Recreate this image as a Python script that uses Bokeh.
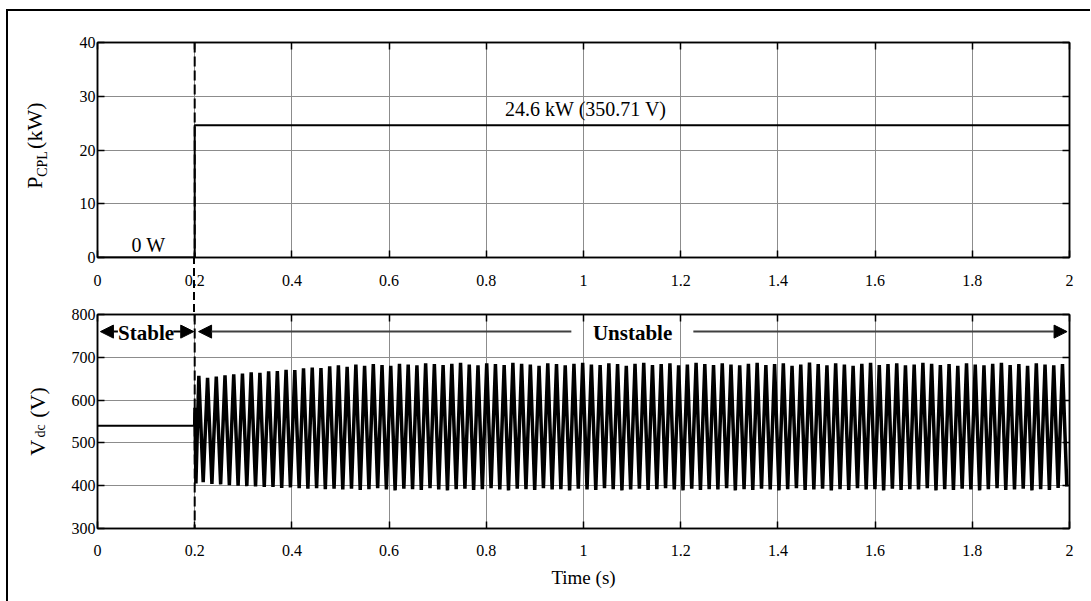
import numpy as np
from bokeh.plotting import figure
from bokeh.models import (Span, Label, Arrow, NormalHead, LinearAxis, FixedTicker,
                          Range1d, CustomJSTickFormatter)
from bokeh.layouts import column
from bokeh.embed import file_html
from bokeh.resources import INLINE

# ---------------- data ----------------
x_ticks = [0, 0.2, 0.4, 0.6, 0.8, 1, 1.2, 1.4, 1.6, 1.8, 2]
x_tick_labels = ["0", "0.2", "0.4", "0.6", "0.8", "1", "1.2", "1.4", "1.6", "1.8", "2"]
p_ticks = [0, 10, 20, 30, 40]
v_ticks = [300, 400, 500, 600, 700, 800]

# P_CPL step (kW)
time_p = [0.0, 0.2, 0.2, 2.0]
power_kw = [0.0, 0.0, 24.6, 24.6]

# V_dc: stable part (before the load step)
time_v_stable = [0.0, 0.2]
v_stable = [540, 540]

# V_dc: start of the transient
time_v_start = [0.2, 0.2005, 0.2025]
v_start = [540, 582, 405]

# oscillation: first peak time and period
osc_first_peak = 0.2085
osc_period = 0.01795
v_peaks = [657, 652, 655, 658, 660, 662, 665, 664, 667, 668,
           671, 670, 674, 676, 675, 679, 681, 678, 683, 680,
           684, 682, 680, 685, 683, 681, 686, 684, 682, 685,
           687, 683, 681, 686, 684, 682, 687, 685, 683, 680,
           686, 684, 681, 685, 687, 683, 682, 686, 684, 680,
           685, 687, 682, 684, 686, 681, 683, 687, 684, 682,
           686, 683, 681, 685, 687, 682, 684, 686, 680, 683,
           688, 684, 681, 686, 683, 680, 685, 687, 682, 684,
           686, 681, 683, 687, 685, 682, 684, 680, 686, 683,
           681, 685, 687, 682, 684, 680, 686, 683, 681, 684]
v_troughs = [408, 404, 403, 401, 400, 399, 398, 397, 397, 395,
             396, 394, 393, 394, 392, 393, 391, 393, 390, 392,
             394, 391, 389, 393, 392, 390, 394, 391, 389, 392,
             393, 390, 392, 394, 391, 389, 393, 392, 390, 394,
             391, 392, 389, 393, 391, 390, 394, 392, 389, 391,
             393, 390, 392, 394, 391, 389, 393, 390, 392, 391,
             394, 389, 392, 390, 393, 391, 389, 392, 394, 390,
             391, 393, 389, 392, 390, 394, 391, 392, 389, 393,
             390, 392, 391, 394, 389, 392, 390, 393, 391, 389,
             392, 394, 390, 391, 393, 389, 392, 390, 395, 398]

time_v = list(time_v_start)
volt_v = list(v_start)
for k, (pk, tr) in enumerate(zip(v_peaks, v_troughs)):
    time_v += [osc_first_peak + k * osc_period, osc_first_peak + (k + 0.5) * osc_period]
    volt_v += [pk, tr]

FONT = "Liberation Serif"
GRID = "#8c8c8c"
BLANK = CustomJSTickFormatter(code="return ''")


def style(p, ticks_x, ticks_y):
    xt = FixedTicker(ticks=ticks_x)
    yt = FixedTicker(ticks=ticks_y)
    p.xaxis.ticker = xt
    p.yaxis.ticker = yt
    p.xgrid.ticker = xt
    p.ygrid.ticker = yt
    p.xaxis.major_label_overrides = {t: l for t, l in zip(x_ticks, x_tick_labels)}
    for ax in (p.xaxis[0], p.yaxis[0]):
        ax.axis_line_color = "black"
        ax.axis_line_width = 1.5
        ax.major_tick_in = 7
        ax.major_tick_out = 0
        ax.major_tick_line_color = "black"
        ax.major_tick_line_width = 1.5
        ax.minor_tick_line_color = None
        ax.major_label_text_font = FONT
        ax.major_label_text_font_size = "16px"
        ax.major_label_text_color = "black"
    p.xaxis.major_label_standoff = 17
    p.yaxis.major_label_standoff = 2
    for g in (p.xgrid[0], p.ygrid[0]):
        g.grid_line_color = GRID
        g.grid_line_width = 1
    top = LinearAxis(ticker=xt, formatter=BLANK, major_tick_in=7, major_tick_out=0,
                     major_label_standoff=0, major_label_text_font_size="1px",
                     minor_tick_line_color=None, axis_line_width=1.5,
                     major_tick_line_width=1.5)
    right = LinearAxis(ticker=yt, formatter=BLANK, major_tick_in=7, major_tick_out=0,
                       major_label_standoff=0, major_label_text_font_size="1px",
                       minor_tick_line_color=None, axis_line_width=1.5,
                       major_tick_line_width=1.5)
    p.add_layout(top, "above")
    p.add_layout(right, "right")
    p.outline_line_color = "black"
    p.outline_line_width = 1.5


def title_axis(text, size, standoff):
    """An invisible left axis used only to place a piece of the y title."""
    return LinearAxis(ticker=FixedTicker(ticks=[]), formatter=BLANK,
                      axis_line_color=None, major_tick_line_color=None, minor_tick_line_color=None,
                      major_tick_in=0, major_tick_out=0, major_label_standoff=0,
                      axis_label=text, axis_label_standoff=standoff,
                      axis_label_text_font=FONT, axis_label_text_font_size=size,
                      axis_label_text_font_style="normal", axis_label_text_color="black")


# ---------------- top panel ----------------
p1 = figure(width=1082, height=290, x_range=Range1d(0, 2), y_range=Range1d(0, 40),
            output_backend="svg", toolbar_location=None,
            min_border_left=89, min_border_right=21, min_border_top=31, min_border_bottom=44,
            border_fill_color=None, background_fill_color="white")
style(p1, x_ticks, p_ticks)
p1.line(time_p, power_kw, line_color="black", line_width=2)
p1.add_layout(Span(location=0.2, dimension="height", line_color="black",
                   line_width=2, line_dash="10 4"))
p1.add_layout(Label(x=0.105, y=2.4, text="0 W", text_align="center", text_color="black",
                    text_baseline="middle", text_font=FONT, text_font_size="20px"))
p1.add_layout(Label(x=1.005, y=27.6, text="24.6 kW (350.71 V)", text_align="center",
                    text_color="black", text_baseline="middle", text_font=FONT,
                    text_font_size="20px"))
# y title P_CPL (kW): subscript then main text, on invisible outer axes
p1.add_layout(title_axis("CPL\u2003\u2003", "14px", 27), "left")
p1.add_layout(title_axis("\u2009\u2009P\u2003\u00a0(kW)", "22px", -15), "left")

# ---------------- bottom panel ----------------
p2 = figure(width=1082, height=300, x_range=Range1d(0, 2), y_range=Range1d(300, 800),
            output_backend="svg", toolbar_location=None,
            min_border_left=89, min_border_right=21, min_border_top=13, min_border_bottom=73,
            border_fill_color=None, background_fill_color="white")
style(p2, x_ticks, v_ticks)
bottom_axis = p2.below[0]
bottom_axis.major_label_standoff = 16
bottom_axis.axis_label = "Time (s)"
bottom_axis.axis_label_text_font = FONT
bottom_axis.axis_label_text_font_style = "normal"
bottom_axis.axis_label_text_font_size = "19px"
bottom_axis.axis_label_text_color = "black"
bottom_axis.axis_label_standoff = 8
p2.line(time_v_stable, v_stable, line_color="black", line_width=2)
p2.line(time_v, volt_v, line_color="black", line_width=3.5)
p2.add_layout(Span(location=0.2, dimension="height", line_color="black",
                   line_width=2, line_dash="10 4"))

# Stable / Unstable annotations
head = dict(size=13, fill_color="black", line_color="black")
p2.add_layout(Arrow(end=NormalHead(**head), x_start=0.042, y_start=760, x_end=0.006, y_end=760,
                    line_color="black", line_width=2))
p2.add_layout(Arrow(end=NormalHead(**head), x_start=0.156, y_start=760, x_end=0.198, y_end=760,
                    line_color="black", line_width=2))
p2.add_layout(Arrow(end=NormalHead(**head), x_start=0.975, y_start=760, x_end=0.208, y_end=760,
                    line_color="#404040", line_width=2))
p2.add_layout(Arrow(end=NormalHead(**head), x_start=1.226, y_start=760, x_end=1.995, y_end=760,
                    line_color="#404040", line_width=2))
p2.add_layout(Label(x=0.1, y=756, text="Stable", text_align="center", text_baseline="middle",
                    text_color="black", text_font=FONT, text_font_size="21px",
                    text_font_style="bold"))
p2.add_layout(Label(x=1.101, y=756, text="Unstable", text_align="center", text_baseline="middle",
                    text_color="black", text_font=FONT, text_font_size="21px",
                    text_font_style="bold"))
# y title V_dc (V)
p2.add_layout(title_axis("dc\u2003\u2004", "14px", 21), "left")
p2.add_layout(title_axis("V\u2003(V)", "22px", -20), "left")

layout = column(p1, p2, styles={
    "margin-left": "6px",
    "margin-top": "9px",
    "border-left": "2px solid black",
    "border-top": "2px solid black",
    "background-color": "white",
    "background-image": "repeating-linear-gradient(to bottom, #000 0px, #000 8px, transparent 8px, transparent 12px)",
    "background-size": "2px 58px",
    "background-position": "185px 245px",
    "background-repeat": "no-repeat",
})

open("out.html", "w").write(file_html(layout, INLINE))
